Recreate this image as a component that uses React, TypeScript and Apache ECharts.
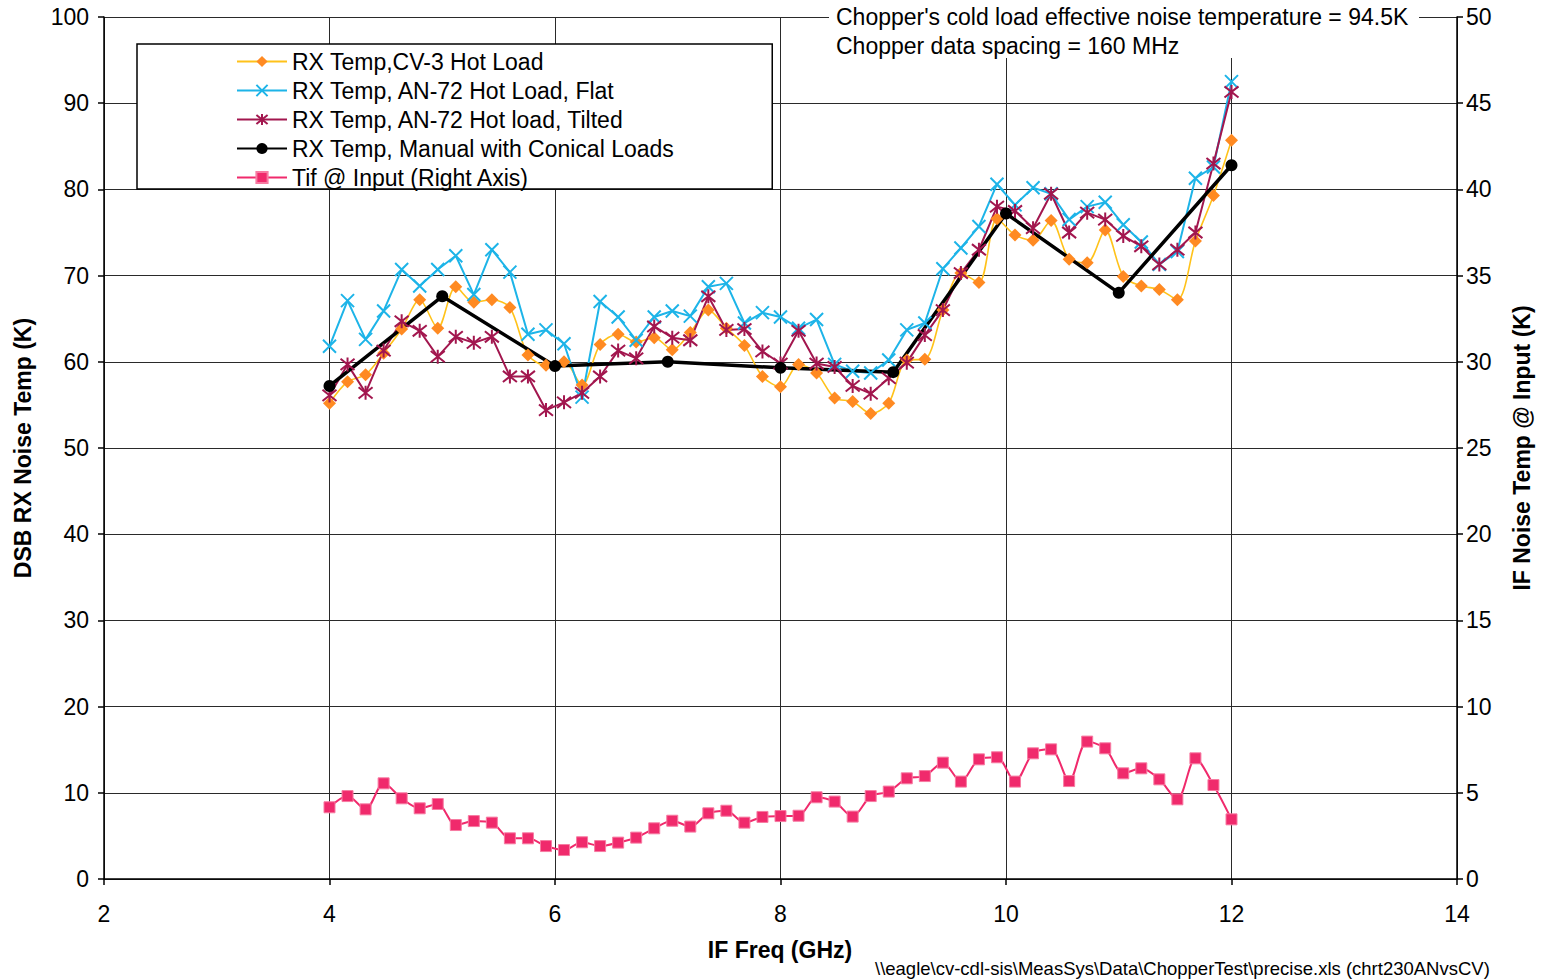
import React, { useEffect, useRef } from "react";
import * as echarts from "echarts";

const FONT = '"Liberation Sans", Arial, Helvetica, sans-serif';

// IF frequency points (GHz), chopper data spacing 160 MHz
const freqs = [
  4.0, 4.16, 4.32, 4.48, 4.64, 4.8, 4.96, 5.12, 5.28, 5.44, 5.6, 5.76, 5.92, 6.08, 6.24, 6.4, 6.56,
  6.72, 6.88, 7.04, 7.2, 7.36, 7.52, 7.68, 7.84, 8.0, 8.16, 8.32, 8.48, 8.64, 8.8, 8.96, 9.12, 9.28,
  9.44, 9.6, 9.76, 9.92, 10.08, 10.24, 10.4, 10.56, 10.72, 10.88, 11.04, 11.2, 11.36, 11.52, 11.68,
  11.84, 12.0,
];

const cv3Hot = [
  55.2, 57.7, 58.5, 61.0, 63.8, 67.2, 63.9, 68.7, 66.9, 67.2, 66.3, 60.8, 59.6, 60.0, 57.3, 62.0,
  63.2, 62.3, 62.8, 61.4, 63.4, 66.0, 63.9, 61.9, 58.3, 57.1, 59.7, 58.7, 55.8, 55.4, 54.0, 55.2,
  60.2, 60.3, 66.0, 70.3, 69.2, 76.6, 74.7, 74.1, 76.4, 71.9, 71.5, 75.3, 69.9, 68.8, 68.4, 67.2,
  74.0, 79.3, 85.7,
];

const an72Flat = [
  61.8, 67.1, 62.6, 65.9, 70.7, 68.8, 70.7, 72.3, 67.8, 73.0, 70.4, 63.2, 63.7, 62.1, 55.9, 67.0,
  65.2, 62.5, 65.2, 65.9, 65.3, 68.7, 69.1, 64.5, 65.7, 65.2, 63.9, 64.9, 59.7, 58.9, 58.7, 60.2,
  63.7, 64.5, 70.8, 73.2, 75.7, 80.6, 78.2, 80.2, 79.5, 76.5, 78.0, 78.5, 75.9, 73.9, 71.3, 72.8,
  81.3, 82.6, 92.5,
];

const an72Tilted = [
  56.1, 59.7, 56.4, 61.3, 64.7, 63.6, 60.6, 62.9, 62.2, 62.9, 58.3, 58.3, 54.4, 55.3, 56.4, 58.3,
  61.3, 60.4, 64.1, 62.8, 62.5, 67.6, 63.7, 63.8, 61.2, 59.8, 63.6, 59.8, 59.4, 57.2, 56.3, 58.1,
  59.9, 63.1, 66.0, 70.3, 73.0, 78.0, 77.5, 75.5, 79.5, 75.0, 77.3, 76.5, 74.6, 73.4, 71.3, 73.0,
  75.0, 83.0, 91.3,
];

const tifInput = [
  4.16, 4.81, 4.04, 5.55, 4.68, 4.1, 4.35, 3.13, 3.36, 3.27, 2.36, 2.36, 1.91, 1.68, 2.13, 1.91,
  2.11, 2.4, 2.94, 3.38, 3.04, 3.81, 3.96, 3.27, 3.6, 3.65, 3.67, 4.74, 4.49, 3.62, 4.81, 5.07,
  5.84, 5.97, 6.75, 5.65, 6.94, 7.06, 5.65, 7.29, 7.52, 5.68, 7.97, 7.58, 6.13, 6.42, 5.78, 4.62,
  7.0, 5.45, 3.46,
];

const manualFreqs = [4, 5, 6, 7, 8, 9, 10, 11, 12];
const manualConical = [57.2, 67.6, 59.5, 60.0, 59.3, 58.8, 77.2, 68.0, 82.8];

const seriesNames = [
  "RX Temp,CV-3 Hot Load",
  "RX Temp, AN-72 Hot Load, Flat",
  "RX Temp, AN-72 Hot load, Tilted",
  "RX Temp, Manual with Conical Loads",
  "Tif @ Input (Right Axis)",
];

const annotationLines = [
  "Chopper's cold load effective noise temperature = 94.5K",
  "Chopper data spacing = 160 MHz",
];
const xTitle = "IF Freq (GHz)";
const yLeftTitle = "DSB RX Noise Temp (K)";
const yRightTitle = "IF Noise Temp @ Input (K)";
const footer = "\\\\eagle\\cv-cdl-sis\\MeasSys\\Data\\ChopperTest\\precise.xls (chrt230ANvsCV)";

const pair = (xs: number[], ys: number[]) => xs.map((x, i) => [x, ys[i]]);

export default function App() {
  const ref = useRef<HTMLDivElement>(null);

  useEffect(() => {
    document.body.style.margin = "0";
    document.body.style.background = "#fff";
    if (!ref.current) return;
    const chart = echarts.init(ref.current, undefined, { renderer: "svg" });

    const axisLabel = { fontSize: 23, color: "#000", fontFamily: FONT };
    const axisLine = { show: true, lineStyle: { color: "#000", width: 1.5 } };
    const axisTick = { show: true, length: 6, lineStyle: { color: "#000", width: 1.5 } };
    const splitLine = { show: true, lineStyle: { color: "#2a2a2a", width: 1 } };

    const option: any = {
      animation: false,
      backgroundColor: "#fff",
      grid: { left: 104, top: 17, width: 1353, height: 862, containLabel: false },
      xAxis: {
        type: "value",
        min: 2,
        max: 14,
        interval: 2,
        axisLine,
        axisTick,
        splitLine,
        axisLabel: { ...axisLabel, margin: 23 },
      },
      yAxis: [
        {
          type: "value",
          min: 0,
          max: 100,
          interval: 10,
          position: "left",
          axisLine,
          axisTick,
          splitLine,
          axisLabel: { ...axisLabel, margin: 15 },
        },
        {
          type: "value",
          min: 0,
          max: 50,
          interval: 5,
          position: "right",
          axisLine,
          axisTick,
          splitLine: { show: false },
          axisLabel: { ...axisLabel, margin: 9 },
        },
      ],
      legend: {
        left: 137,
        top: 44,
        orient: "vertical",
        itemWidth: 50,
        itemHeight: 14,
        itemGap: 6,
        padding: [6, 98, 0, 99],
        borderColor: "#000",
        borderWidth: 1.5,
        backgroundColor: "#fff",
        selectedMode: false,
        textStyle: { fontSize: 23, fontFamily: FONT, color: "#000" },
        data: seriesNames,
        z: 10,
      },
      series: [
        {
          name: seriesNames[0],
          type: "line",
          data: pair(freqs, cv3Hot),
          symbol: "diamond",
          symbolSize: 13,
          smooth: 0.3,
          showAllSymbol: true,
          lineStyle: { color: "#FFC21A", width: 1.6 },
          itemStyle: { color: "#FF8A22" },
          emphasis: { disabled: true },
        },
        {
          name: seriesNames[1],
          type: "line",
          data: pair(freqs, an72Flat),
          symbol: "path://M0,0L10,10M10,0L0,10",
          symbolSize: 13,
          showAllSymbol: true,
          lineStyle: { color: "#1DB4E8", width: 2 },
          itemStyle: { color: "#1DB4E8", borderColor: "#1DB4E8", borderWidth: 2 },
          emphasis: { disabled: true },
        },
        {
          name: seriesNames[2],
          type: "line",
          data: pair(freqs, an72Tilted),
          symbol: "path://M1,1L9,9M9,1L1,9M5,0L5,10",
          symbolSize: 14,
          showAllSymbol: true,
          lineStyle: { color: "#A2164E", width: 2 },
          itemStyle: { color: "#A2164E", borderColor: "#A2164E", borderWidth: 2 },
          emphasis: { disabled: true },
        },
        {
          name: seriesNames[3],
          type: "line",
          data: pair(manualFreqs, manualConical),
          symbol: "circle",
          symbolSize: 12,
          showAllSymbol: true,
          lineStyle: { color: "#000", width: 3.5 },
          itemStyle: { color: "#000" },
          emphasis: { disabled: true },
        },
        {
          name: seriesNames[4],
          type: "line",
          yAxisIndex: 1,
          data: pair(freqs, tifInput),
          symbol: "rect",
          symbolSize: 11,
          smooth: 0.3,
          showAllSymbol: true,
          lineStyle: { color: "#F02A6C", width: 2 },
          itemStyle: { color: "#F02A6C", borderColor: "#F77BA2", borderWidth: 1 },
          emphasis: { disabled: true },
        },
      ],
      graphic: [
        {
          type: "rect",
          z: 100,
          shape: { x: 829, y: 4, width: 590, height: 54 },
          style: { fill: "#fff" },
        },
        {
          type: "text",
          z: 101,
          x: 836,
          y: 17,
          style: {
            text: annotationLines[0],
            font: `23px ${FONT}`,
            fill: "#000",
            verticalAlign: "middle",
            align: "left",
          },
        },
        {
          type: "text",
          z: 101,
          x: 836,
          y: 46,
          style: {
            text: annotationLines[1],
            font: `23px ${FONT}`,
            fill: "#000",
            verticalAlign: "middle",
            align: "left",
          },
        },
        {
          type: "text",
          z: 101,
          x: 780,
          y: 950,
          style: {
            text: xTitle,
            font: `bold 23px ${FONT}`,
            fill: "#000",
            verticalAlign: "middle",
            align: "center",
          },
        },
        {
          type: "text",
          z: 101,
          x: 23,
          y: 448,
          rotation: Math.PI / 2,
          style: {
            text: yLeftTitle,
            font: `bold 23px ${FONT}`,
            fill: "#000",
            verticalAlign: "middle",
            align: "center",
          },
        },
        {
          type: "text",
          z: 101,
          x: 1522,
          y: 448,
          rotation: Math.PI / 2,
          style: {
            text: yRightTitle,
            font: `bold 23px ${FONT}`,
            fill: "#000",
            verticalAlign: "middle",
            align: "center",
          },
        },
        {
          type: "text",
          z: 101,
          x: 875,
          y: 968,
          style: {
            text: footer,
            font: `18.5px ${FONT}`,
            fill: "#000",
            verticalAlign: "middle",
            align: "left",
          },
        },
      ],
    };

    chart.setOption(option);
    return () => chart.dispose();
  }, []);

  return <div ref={ref} style={{ width: 1542, height: 980 }} />;
}
